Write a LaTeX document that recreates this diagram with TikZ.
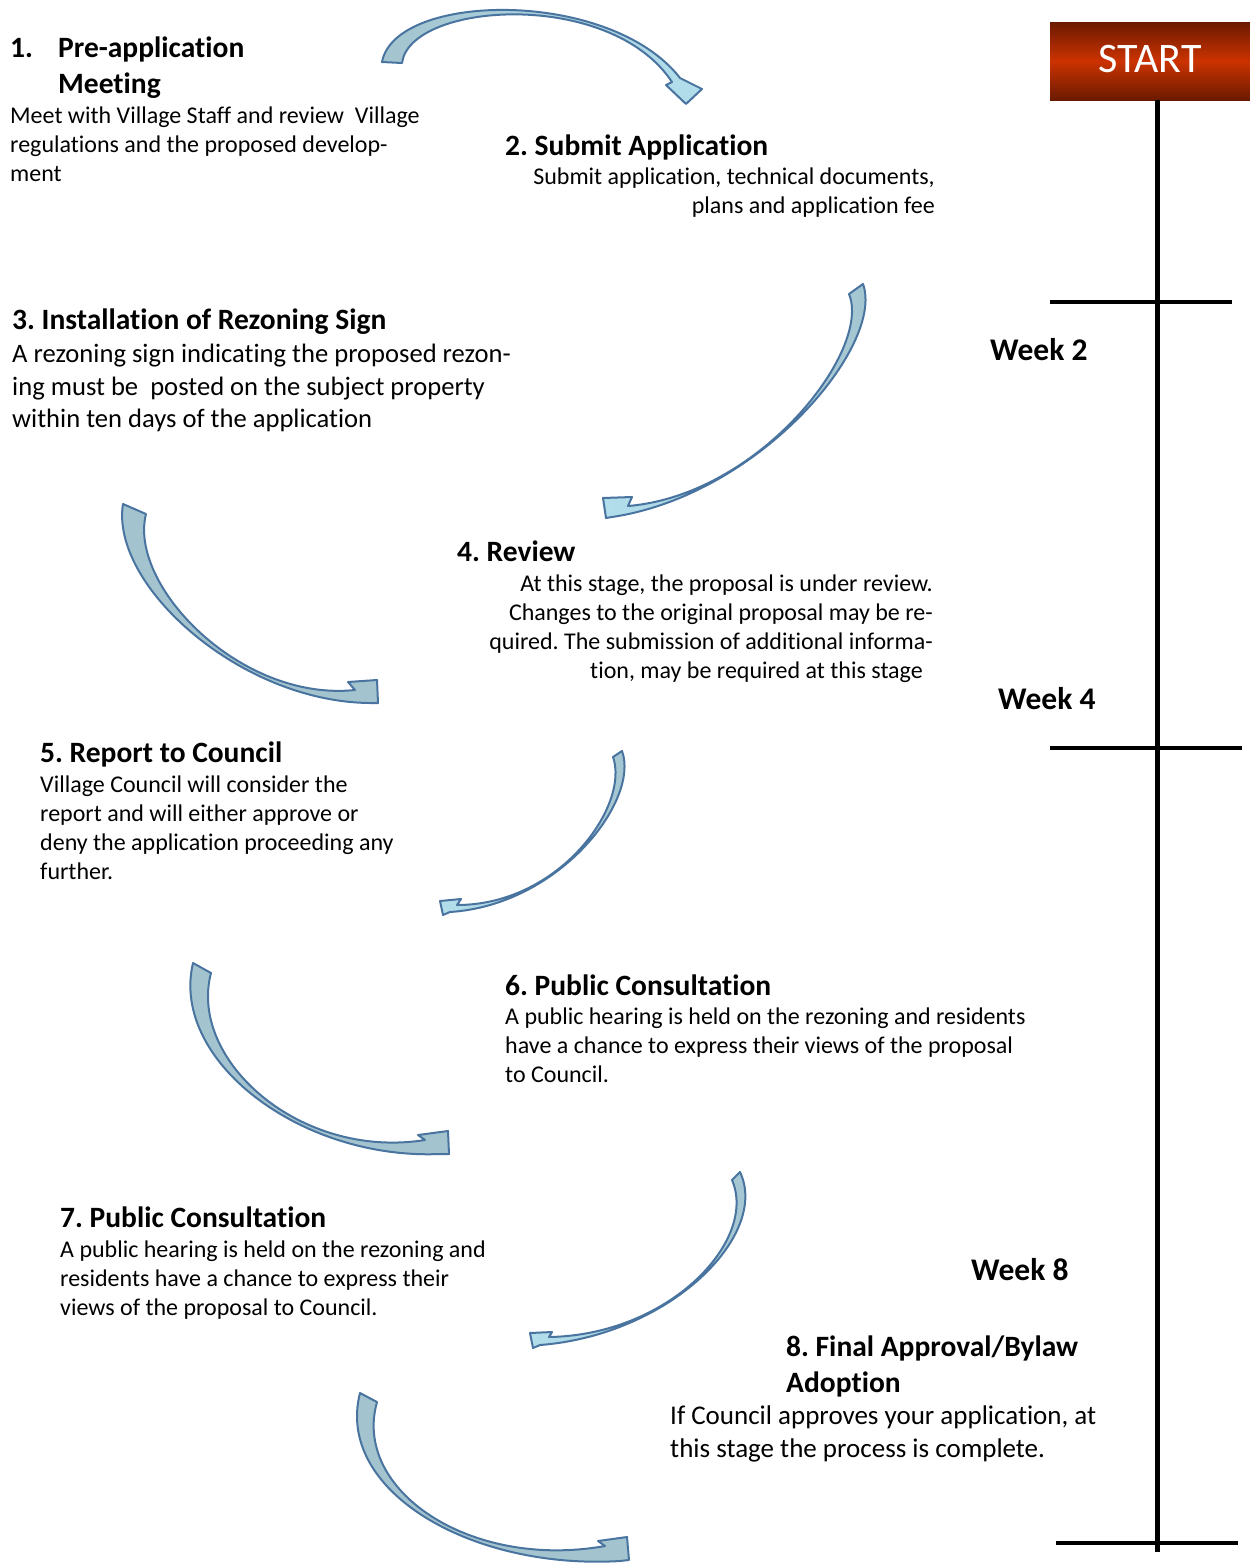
\documentclass[tikz,border=0pt]{standalone}
\usepackage{fontspec}
\setmainfont[Ligatures=NoCommon]{Carlito}
\frenchspacing

\definecolor{arrowline}{RGB}{74,116,160}
\definecolor{ribbongray}{RGB}{163,196,207}
\definecolor{ribboncyan}{RGB}{178,222,236}
\definecolor{startdark}{RGB}{106,26,0}
\definecolor{startred}{RGB}{204,51,0}

\tikzset{
	steptitle/.style={anchor=north west, inner sep=0pt, align=left, font=\fontsize{29.5}{36}\selectfont\bfseries},
	stepbody/.style={anchor=north west, inner sep=0pt, align=left, font=\fontsize{24}{29}\selectfont},
	weeklabel/.style={anchor=base west, inner sep=0pt, font=\fontsize{31.5}{38}\selectfont\bfseries},
	ribbon/.style={draw=arrowline, line width=2pt, line join=round},
	ribbonfwd/.style={ribbon, left color=ribbongray, right color=ribboncyan},
	ribbonback/.style={ribbon, left color=ribboncyan, right color=ribbongray},
	ribbonflat/.style={ribbon, fill=ribbongray},
	tick/.style={line width=4pt}
}

\begin{document}
\begin{tikzpicture}[x=1pt, y=-1pt]
	\useasboundingbox (0,0) rectangle (1250,1564);

	% timeline on the right
	\node[minimum width=200pt, minimum height=78pt, inner sep=0pt, text depth=5pt,
		top color=startdark, bottom color=startdark, middle color=startred,
		text=white, font=\fontsize{42}{50}\selectfont] (start) at (1150,61) {START};
	\coordinate (tlend) at (1157,1552);
	\draw[line width=5pt] (start.south -| tlend) -- (tlend);
	\draw[tick] (1050,302) -- (1232,302);
	\draw[tick] (1050,748) -- (1242,748);
	\draw[tick] (1056,1543) -- (1238,1543);

	\node[weeklabel] (wk2) at (990,360) {Week 2};
	\node[weeklabel] (wk4) at (998,709) {Week 4};
	\node[weeklabel] (wk8) at (971,1280) {Week 8};

	% steps
	\node[weeklabel, font=\fontsize{29.5}{36}\selectfont\bfseries] (n1) at (10,57) {1.};
	\node[steptitle] (t1) at (58,37) {Pre-application\\Meeting};
	\node[stepbody] (b1) at (10,107) {Meet with Village Staff and review\ \ Village\\regulations and the proposed develop-\\ment};

	\node[steptitle] (t2) at (505,135) {2. Submit Application};
	\node[stepbody, anchor=north east, align=right] (b2) at (935,168) {Submit application, technical documents,\\plans and application fee};

	\node[steptitle] (t3) at (12,309) {3. Installation of Rezoning Sign};
	\node[stepbody, font=\fontsize{26.6}{32.5}\selectfont] (b3) at (12,344) {A rezoning sign indicating the proposed rezon-\\ing must be\ \ posted on the subject property\\within ten days of the application};

	\node[steptitle] (t4) at (457,541) {4. Review};
	\node[stepbody, anchor=north east, align=right] (b4) at (933,575) {At this stage, the proposal is under review.\\Changes to the original proposal may be re-\\quired. The submission of additional informa-\\tion, may be required at this stage\hspace*{10pt}};

	\node[steptitle] (t5) at (40,742) {5. Report to Council};
	\node[stepbody] (b5) at (40,776) {Village Council will consider the\\report and will either approve or\\deny the application proceeding any\\further.};

	\node[steptitle] (t6) at (505,975) {6. Public Consultation};
	\node[stepbody] (b6) at (505,1008) {A public hearing is held on the rezoning and residents\\have a chance to express their views of the proposal\\to Council.};

	\node[steptitle] (t7) at (60,1207) {7. Public Consultation};
	\node[stepbody] (b7) at (60,1241) {A public hearing is held on the rezoning and\\residents have a chance to express their\\views of the proposal to Council.};

	\node[steptitle] (t8) at (786,1336) {8. Final Approval/Bylaw\\Adoption};
	\node[stepbody, font=\fontsize{27}{33}\selectfont] (b8) at (670,1406) {If Council approves your application, at\\this stage the process is complete.};

	% curved ribbon arrows between the steps (the edges nearly share their
	% controls, so the band pinches in the middle)
	\draw[ribbonfwd] (382,62) .. controls (395,-8) and (610,-12) .. (680,78)
		-- (702,89) -- (686,104) -- (666,85) -- (672,82)
		.. controls (610,-12) and (410,2) .. (402,63) -- cycle;
	\draw[ribbonback] (863,284) .. controls (885,345) and (760,495) .. (612,517)
		-- (606,518) -- (603,498) -- (632,497) -- (628,506)
		.. controls (760,495) and (872,350) .. (849,294) -- cycle;
	\draw[ribbonflat] (123,504) .. controls (110,585) and (240,702) .. (370,703)
		-- (378,703) -- (377,680) -- (348,682) -- (355,690)
		.. controls (240,702) and (128,585) .. (146,514) -- cycle;
	\draw[ribbonback] (622,751) .. controls (640,800) and (560,905) .. (450,912)
		-- (443,915) -- (440,901) -- (461,899) -- (457,905)
		.. controls (560,905) and (630,805) .. (613,757) -- cycle;
	\draw[ribbonflat] (193,963) .. controls (170,1060) and (300,1160) .. (440,1154)
		-- (449,1154) -- (448,1131) -- (418,1135) -- (425,1140)
		.. controls (300,1160) and (188,1060) .. (211,973) -- cycle;
	\draw[ribbonback] (740,1172) .. controls (770,1235) and (670,1335) .. (540,1345)
		-- (533,1348) -- (530,1333) -- (552,1332) -- (549,1337)
		.. controls (670,1335) and (758,1240) .. (732,1180) -- cycle;
	\draw[ribbonflat] (360,1393) .. controls (335,1490) and (470,1570) .. (620,1561)
		-- (629,1560) -- (627,1537) -- (598,1541) -- (605,1546)
		.. controls (470,1570) and (352,1490) .. (377,1402) -- cycle;
\end{tikzpicture}
\end{document}
